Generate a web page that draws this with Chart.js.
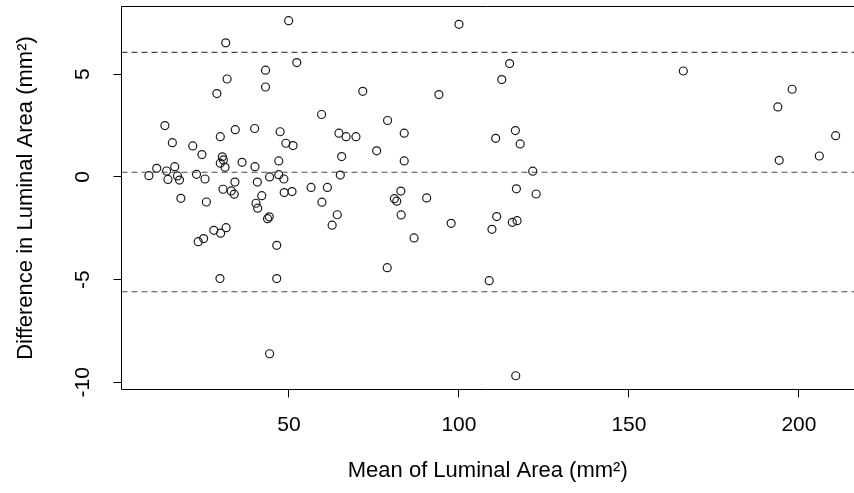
<!DOCTYPE html>
<html><head><meta charset="utf-8">
<script src="https://cdn.jsdelivr.net/npm/chart.js@4"></script>
<style>html,body{margin:0;padding:0;overflow:hidden;background:#fff}canvas{display:block}</style>
</head><body>
<canvas id="c" width="854" height="493" style="width:854px;height:493px"></canvas>
<script>
const meanArea = [8.8, 11.1, 13.5, 14.0, 14.4, 15.7, 16.4, 17.2, 17.8, 18.2,
  21.7, 22.8, 23.3, 24.4, 24.9, 25.3, 25.7, 27.9, 28.8, 29.7,
  29.8, 29.9, 29.8, 30.4, 30.7, 30.6, 31.2, 31.4, 31.5, 31.8,
  33.0, 33.9, 34.1, 34.2, 36.2, 39.9, 40.0, 40.3, 40.7, 40.8,
  42.0, 43.1, 43.1, 43.7, 44.2, 44.3, 44.3, 46.4, 46.4, 47.0,
  47.0, 47.4, 48.5, 48.6, 49.1, 49.9, 50.9, 51.2, 52.3, 56.5,
  59.6, 59.7, 61.3, 62.7, 64.2, 64.7, 65.1, 65.5, 66.8, 69.7,
  71.7, 75.8, 78.9, 79.0, 81.0, 81.7, 82.9, 83.0, 83.9, 83.9,
  86.8, 90.5, 94.1, 97.7, 100.0, 108.9, 109.7, 110.8, 111.1, 112.6,
  114.9, 115.7, 116.6, 116.7, 116.9, 117.1, 118.0, 121.7, 122.7, 166.0,
  193.8, 194.2, 198.0, 206.0, 210.8];
const diffArea = [0.06, 0.42, 2.50, 0.29, -0.12, 1.67, 0.50, 0.05, -0.15, -1.04,
  1.51, 0.13, -3.15, 1.09, -3.0, -0.10, -1.22, -2.60, 4.06, -4.95,
  1.96, -2.74, 0.67, 0.98, 0.83, -0.60, 0.47, 6.53, -2.47, 4.77,
  -0.68, -0.84, -0.25, 2.30, 0.71, 2.36, 0.50, -1.28, -0.25, -1.52,
  -0.91, 5.2, 4.38, -2.03, -1.94, 0.0, -8.61, -3.33, -4.95, 0.78,
  0.11, 2.20, -0.10, -0.76, 1.64, 7.61, -0.71, 1.53, 5.57, -0.51,
  3.04, -1.23, -0.51, -2.35, -1.84, 2.13, 0.09, 0.99, 1.96, 1.96,
  4.17, 1.27, -4.42, 2.75, -1.06, -1.18, -0.69, -1.85, 2.13, 0.78,
  -2.97, -1.02, 4.01, -2.26, 7.43, -5.05, -2.55, 1.88, -1.93, 4.74,
  5.52, -2.21, 2.26, -9.68, -0.58, -2.13, 1.61, 0.28, -0.83, 5.16,
  3.41, 0.81, 4.27, 1.02, 2.01];
const limitLines = [6.07, 0.23, -5.59];
const xTicks = [50, 100, 150, 200];
const yTicks = [-10, -5, 0, 5];
const xRange = [0.74, 216.2];
const yRange = [-10.35, 8.3];

const FONT = '"Liberation Sans", Arial, Helvetica, sans-serif';

const points = meanArea.map((x, i) => ({x: x, y: diffArea[i]}));
const lineSets = limitLines.map(v => ({
  type: 'line',
  data: [{x: xRange[0], y: v}, {x: xRange[1], y: v}],
  borderColor: '#4a4a4a',
  borderWidth: 1.2,
  borderDash: [6, 4],
  pointRadius: 0,
  fill: false,
  order: 0
}));

// plot frame: the right side of the box lies beyond the visible crop
const boxPlugin = {
  id: 'box',
  afterDraw(chart) {
    const {ctx, chartArea: a} = chart;
    ctx.save();
    ctx.strokeStyle = '#000';
    ctx.lineWidth = 1;
    ctx.beginPath();
    ctx.moveTo(a.right, a.top);
    ctx.lineTo(a.left, a.top);
    ctx.lineTo(a.left, a.bottom);
    ctx.lineTo(a.right, a.bottom);
    ctx.stroke();
    ctx.restore();
  }
};

function noPad(s) { s.paddingTop = 0; s.paddingBottom = 0; s.paddingLeft = 0; s.paddingRight = 0; }

new Chart(document.getElementById('c'), {
  type: 'scatter',
  data: {
    datasets: [{
      type: 'scatter',
      data: points,
      pointStyle: 'circle',
      pointRadius: 4,
      pointHoverRadius: 4,
      borderWidth: 1.2,
      borderColor: '#1a1a1a',
      backgroundColor: 'rgba(0,0,0,0)',
      order: 1
    }].concat(lineSets)
  },
  options: {
    responsive: false,
    animation: false,
    devicePixelRatio: 1,
    layout: {autoPadding: false, padding: {top: 6.5, right: 0, bottom: 0, left: 0}},
    plugins: {legend: {display: false}, tooltip: {enabled: false}},
    scales: {
      x: {
        type: 'linear',
        min: xRange[0], max: xRange[1],
        afterBuildTicks: s => { s.ticks = xTicks.map(v => ({value: v})); },
        afterFit: s => { s.height = 103.5; noPad(s); },
        grid: {display: true, drawOnChartArea: false, drawTicks: true, tickLength: 8, color: '#000', lineWidth: 1},
        border: {display: false},
        ticks: {autoSkip: false, maxRotation: 0, minRotation: 0, padding: 15, color: '#000',
          font: {family: FONT, size: 21}, callback: v => String(v)},
        title: {display: true, text: 'Mean of Luminal Area (mm²)', color: '#000',
          font: {family: FONT, size: 22}, padding: {top: 0, bottom: 9}}
      },
      y: {
        type: 'linear',
        min: yRange[0], max: yRange[1],
        afterBuildTicks: s => { s.ticks = yTicks.map(v => ({value: v})); },
        afterFit: s => { s.width = 121.5; noPad(s); },
        grid: {display: true, drawOnChartArea: false, drawTicks: true, tickLength: 8, color: '#000', lineWidth: 1},
        border: {display: false},
        ticks: {autoSkip: false, minRotation: 90, maxRotation: 90, crossAlign: 'center', padding: 15, color: '#000',
          font: {family: FONT, size: 21}, callback: v => String(v)},
        title: {display: true, text: 'Difference in Luminal Area (mm²)', color: '#000',
          font: {family: FONT, size: 22}, padding: {top: 13, bottom: 0}}
      }
    }
  },
  plugins: [boxPlugin]
});
</script>
</body></html>
